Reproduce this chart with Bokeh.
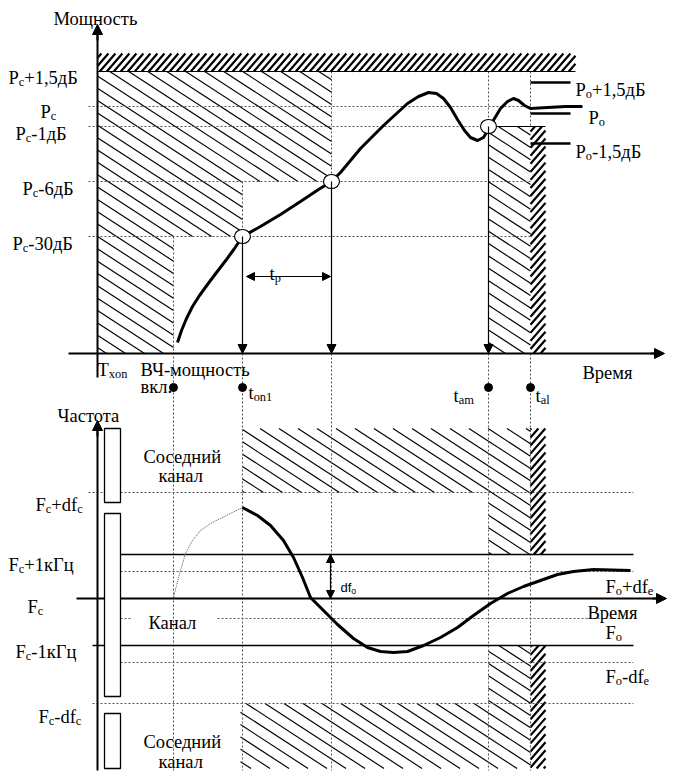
import numpy as np
from bokeh.plotting import figure
from bokeh.models import Range1d, Arrow, NormalHead, ColumnDataSource
from bokeh.core.properties import value
from bokeh.embed import file_html
from bokeh.resources import INLINE

# ---------------- schematic data (diagram units) ----------------
# time marks
T_AXIS = 97          # origin of both time axes (T_xon)
T_RF_ON = 173        # RF power on
T_ON1 = 242          # t_on1
T_P_END = 331        # end of t_p
T_AM = 488           # t_am
T_AL = 530           # t_al
T_AL_END = 545       # end of dense hatched strip
T_BAND_END = 575     # end of upper limit band
T_LINE_END = 633     # end of frequency level lines
T_END = 664          # arrow tip of time axes

# power panel levels
P_AXIS = 353
P_TOP = 53
P_NAMES = ["Pc+1,5дБ", "Pc", "Pc-1дБ", "Pc-6дБ", "Pc-30дБ"]
P_LEVELS = [71, 106, 126, 181, 236]
P_MARK_NAMES = ["Po+1,5дБ", "Po", "Po-1,5дБ"]
P_MARK_LEVELS = [82, 113, 143]

# power curve
PWR_T = [177, 181, 186, 192, 199, 207, 216, 226, 234, 242, 260, 280, 300, 318, 331,
         340, 350, 360, 372, 383, 395, 407, 418, 428, 436, 443, 450, 457, 464, 470,
         477, 483, 489, 494, 500, 507, 513, 518, 524, 530, 547, 565, 582]
PWR_V = [342, 330, 318, 306, 295, 284, 272, 259, 248, 236, 226, 214, 201, 189, 181,
         172, 160, 148, 136, 125, 114, 103, 96, 92, 93, 98, 107, 119, 130, 137,
         140, 137, 127, 118, 108, 101, 98, 100, 105, 108, 107, 106, 106]

# frequency panel levels
F_AXIS = 598
F_NAMES = ["Fc+dfc", "Fc+1кГц", "Fo+dfe", "Fc", "Fo", "Fc-1кГц", "Fo-dfe", "Fc-dfc"]
F_LEVELS = [492, 554, 571, 598, 618, 645, 662, 703]
F_TOP = 428
F_BOTTOM = 768
BOX_X = [104, 120]
BOX_TOP = [428, 513, 713]
BOX_BOTTOM = [502, 696, 768]

# frequency curves
FRQ_DOT_T = [173, 176, 180, 185, 192, 200, 210, 220, 232, 242]
FRQ_DOT_V = [597, 585, 570, 553, 540, 530, 523, 518, 512, 507]
FRQ_T = [242, 257, 270, 283, 293, 302, 310, 323, 337, 353, 367, 380, 393, 407, 423,
         440, 457, 473, 490, 507, 523, 540, 557, 573, 593, 630]
FRQ_V = [507, 515, 525, 540, 557, 577, 597, 610, 624, 638, 647, 651, 652, 651, 645,
         637, 627, 615, 603, 593, 586, 580, 574, 571, 569, 570]

FONT = "Liberation Serif"
SANS = "Liberation Sans"

W, H = 672, 777
p = figure(width=W, height=H, x_range=Range1d(0, W), y_range=Range1d(H, 0),
           output_backend="svg", toolbar_location=None, min_border=0)
p.axis.visible = False
p.grid.visible = False
p.outline_line_color = None
p.background_fill_color = "white"


def hatch(x0, x1, y0, y1, spacing, slope, kind):
    a, b, c_, d = [], [], [], []
    if kind == "\\":
        cmin, cmax = x0 - y1 / slope, x1 - y0 / slope
        for k in range(int(np.floor(cmin / spacing)) - 1, int(np.ceil(cmax / spacing)) + 2):
            c = k * spacing
            xa, xb = max(x0, c + y0 / slope), min(x1, c + y1 / slope)
            if xb > xa:
                a.append(xa); b.append(slope * (xa - c)); c_.append(xb); d.append(slope * (xb - c))
    else:
        cmin, cmax = x0 + y0 / slope, x1 + y1 / slope
        for k in range(int(np.floor(cmin / spacing)) - 1, int(np.ceil(cmax / spacing)) + 2):
            c = k * spacing
            xa, xb = max(x0, c - y1 / slope), min(x1, c - y0 / slope)
            if xb > xa:
                a.append(xa); b.append(-slope * (xa - c)); c_.append(xb); d.append(-slope * (xb - c))
    return a, b, c_, d


def draw_hatch(rects, spacing, slope, kind, width):
    X0, Y0, X1, Y1 = [], [], [], []
    for (x0, x1, y0, y1) in rects:
        a, b, c, d = hatch(x0, x1, y0, y1, spacing, slope, kind)
        X0 += a; Y0 += b; X1 += c; Y1 += d
    p.segment(X0, Y0, X1, Y1, line_color="black", line_width=width)


# light hatching
light = [
    (T_AXIS, T_P_END, P_LEVELS[0], P_LEVELS[3]),
    (T_AXIS, T_ON1, P_LEVELS[3], P_LEVELS[4]),
    (T_AXIS, T_RF_ON, P_LEVELS[4], P_AXIS),
    (T_AM, T_AL, P_LEVELS[2], P_AXIS),
    (T_ON1, T_AM, F_TOP, F_LEVELS[0]),
    (T_AM, T_AL, F_TOP, F_LEVELS[1]),
    (T_ON1 - 2, T_AM, F_LEVELS[7], F_BOTTOM),
    (T_AM, T_AL, F_LEVELS[5], F_BOTTOM),
]
draw_hatch(light, 19, 0.65, "\\", 1.15)

# dense hatching
dense = [
    (T_AXIS, T_BAND_END, P_TOP, P_LEVELS[0]),
    (T_AL, T_AL_END, P_LEVELS[2], P_AXIS),
    (T_AL, T_AL_END, F_TOP, F_LEVELS[1]),
    (T_AL, T_AL_END, F_LEVELS[5], F_BOTTOM),
]
draw_hatch(dense, 7, 1.15, "/", 2.2)

DOT = dict(line_color="#555555", line_width=1, line_dash="2 2")

# power level dotted lines
p.segment([88] * 4, P_LEVELS[1:], [T_AL] * 4, P_LEVELS[1:], **DOT)
# dotted region borders
p.segment([T_P_END, T_ON1, T_AM, T_AL], [P_LEVELS[0], P_LEVELS[3], P_LEVELS[0], P_LEVELS[0]],
          [T_P_END, T_ON1, T_AM, T_AL], [P_LEVELS[3], P_LEVELS[4], P_LEVELS[2], P_LEVELS[2]], **DOT)
vx = [T_RF_ON, T_ON1, T_P_END, T_AM, T_AL]
p.segment(vx, [P_LEVELS[4], P_AXIS, P_AXIS, P_AXIS, P_AXIS], vx, [770] * 5, **DOT)
# top limit solid line
p.segment([T_AXIS, T_AM], [P_LEVELS[0], P_LEVELS[2]], [T_BAND_END, T_AL_END], [P_LEVELS[0], P_LEVELS[2]],
          line_color="black", line_width=1.2)

# frequency level lines
dotted_f = [0, 2, 6, 7]
p.segment([88, 120, 120, 92], [F_LEVELS[i] for i in dotted_f],
          [T_LINE_END] * 4, [F_LEVELS[i] for i in dotted_f], **DOT)
p.segment([120, 217], [F_LEVELS[4]] * 2, [130, T_LINE_END], [F_LEVELS[4]] * 2, **DOT)
p.segment([120, 92], [F_LEVELS[1], F_LEVELS[5]], [T_LINE_END] * 2, [F_LEVELS[1], F_LEVELS[5]],
          line_color="black", line_width=1.3)

# axes
p.line([T_AXIS, T_AXIS], [377, 30], line_color="black", line_width=2)
p.line([68, T_END - 6], [P_AXIS, P_AXIS], line_color="black", line_width=2)
p.line([T_AXIS, T_AXIS], [770, 426], line_color="black", line_width=2)
p.line([76, T_END - 4], [F_AXIS, F_AXIS], line_color="black", line_width=2.2)
for (xs, ys, xe, ye) in [(T_AXIS, 40, T_AXIS, 24), (T_END - 14, P_AXIS, T_END, P_AXIS),
                         (T_AXIS, 436, T_AXIS, 420), (T_END - 12, F_AXIS, T_END + 2, F_AXIS)]:
    p.add_layout(Arrow(end=NormalHead(size=10, fill_color="black", line_color="black"), start=None,
                       x_start=xs, y_start=ys, x_end=xe, y_end=ye, line_width=2, line_color="black"))

# channel boxes
p.quad(left=[BOX_X[0]] * 3, right=[BOX_X[1]] * 3, top=BOX_TOP, bottom=BOX_BOTTOM,
       fill_color="white", line_color="black", line_width=1.3)

# vertical arrows from crossing points to the time axis
for (tx, ty) in [(T_ON1, P_LEVELS[4]), (T_P_END, P_LEVELS[3]), (T_AM, P_LEVELS[2])]:
    p.add_layout(Arrow(end=NormalHead(size=9, fill_color="black", line_color="black"), start=None,
                       x_start=tx, y_start=ty, x_end=tx, y_end=P_AXIS, line_width=1.2, line_color="black"))
# t_p arrow
p.add_layout(Arrow(end=NormalHead(size=8, fill_color="black", line_color="black"),
                   start=NormalHead(size=8, fill_color="black", line_color="black"),
                   x_start=T_ON1 + 4, y_start=276, x_end=T_P_END - 1, y_end=276, line_width=1.2))
# df_o arrow
p.add_layout(Arrow(end=NormalHead(size=8, fill_color="black", line_color="black"),
                   start=NormalHead(size=8, fill_color="black", line_color="black"),
                   x_start=330, y_start=F_LEVELS[1], x_end=330, y_end=F_AXIS, line_width=1.2))

# marker lines for Po labels
p.segment([T_AL] * 3, P_MARK_LEVELS, [570] * 3, P_MARK_LEVELS, line_color="black", line_width=2.6)

# curves
p.line(PWR_T, PWR_V, line_color="black", line_width=3, line_join="round")
p.line(FRQ_DOT_T, FRQ_DOT_V, line_color="#555555", line_width=1, line_dash="1 1")
p.line(FRQ_T, FRQ_V, line_color="black", line_width=3, line_join="round")

# crossing circles
p.ellipse([T_ON1, T_P_END, T_AM], [P_LEVELS[4], P_LEVELS[3], P_LEVELS[2]], width=16, height=14,
          fill_color="white", line_color="black", line_width=1.2)
# time marks
p.scatter([T_RF_ON, T_ON1, T_AM, T_AL], [387] * 4, size=8, color="black")

# ---------------- texts ----------------
TW = {'P': .556, 'F': .556, 'T': .611, 't': .278, 'd': .5, 'f': .333, 'c': .444, 'o': .5,
      'e': .444, 'p': .5, 'x': .5, 'n': .5, 'a': .444, 'm': .778, 'l': .278, '1': .5,
      '3': .5, '0': .5, '5': .5, '6': .5, '+': .564, '-': .333, ',': .25, '.': .25,
      'д': .5, 'Б': .556, 'к': .48, 'Г': .578, 'ц': .52, 'М': .889, 'о': .5, 'щ': .75,
      'н': .53, 'с': .444, 'т': .44, 'ь': .46, 'В': .667, 'р': .5, 'е': .444, 'м': .62,
      'я': .49, 'Ч': .667, 'а': .444, 'в': .47, 'л': .5, 'и': .53, 'й': .53, 'К': .72,
      'С': .667, 'ш': .75, ' ': .25}

serif = dict(x=[], y=[], text=[], size=[])
sans = dict(x=[], y=[], text=[], size=[])


def w(s, size):
    return sum(TW.get(ch, .5) for ch in s) * size


def label(x, y, parts, size=18.5, target=serif):
    sub = size * 0.67
    for t, s in parts:
        fs = sub if s else size
        target["x"].append(x)
        target["y"].append(y + (size * 0.24 if s else 0))
        target["text"].append(t)
        target["size"].append(f"{fs:.1f}px")
        x += w(t, fs)


def plain(x, y, t, size=18.5, target=serif):
    label(x, y, [(t, False)], size, target)


def sub_label(x, y, name, size=18.5, target=serif):
    head, idx, rest = name[0], name[1], name[2:]
    parts = [(head, False), (idx, True)]
    if rest:
        if rest.startswith("+df") or rest.startswith("-df"):
            parts += [(rest[:-1], False), (rest[-1], True)]
        else:
            parts += [(rest, False)]
    label(x, y, parts, size, target)


plain(53, 18, "Мощность")
for nm, x, y in zip(P_NAMES, [8, 40, 15, 22, 12], [77, 111, 133, 188, 243]):
    sub_label(x, y, nm)
for nm, x, y in zip(P_MARK_NAMES, [575, 588, 575], [89, 117, 151]):
    sub_label(x, y, nm)
plain(582, 372, "Время")
label(97, 369, [("T", False), ("xon", True)])
plain(140, 369, "ВЧ-мощность")
plain(140, 386, "вкл.")
label(248, 392, [("t", False), ("on1", True)])
label(453, 395, [("t", False), ("am", True)])
label(535, 395, [("t", False), ("al", True)])
label(269, 273, [("t", False), ("p", True)])

plain(57, 415, "Частота")
plain(143, 456, "Соседний")
plain(158, 475, "канал")
plain(148, 622, "Канал")
plain(143, 741, "Соседний")
plain(158, 761, "канал")
f_left = {"Fc+dfc": (35, 504), "Fc+1кГц": (8, 564), "Fc": (27, 606), "Fc-1кГц": (15, 651),
          "Fc-dfc": (38, 716), "Fo+dfe": (605, 586), "Fo": (605, 632), "Fo-dfe": (605, 676)}
for nm in F_NAMES:
    x, y = f_left[nm]
    sub_label(x, y, nm)
plain(587, 612, "Время")
label(340, 587, [("df", False), ("o", True)], size=13, target=sans)

p.text(x="x", y="y", text="text", text_font_size="size", source=ColumnDataSource(serif),
       text_font=value(FONT), text_color="black", text_baseline="alphabetic", text_align="left")
p.text(x="x", y="y", text="text", text_font_size="size", source=ColumnDataSource(sans),
       text_font=value(SANS), text_color="black", text_baseline="alphabetic", text_align="left")

open("out.html", "w").write(file_html(p, INLINE))
